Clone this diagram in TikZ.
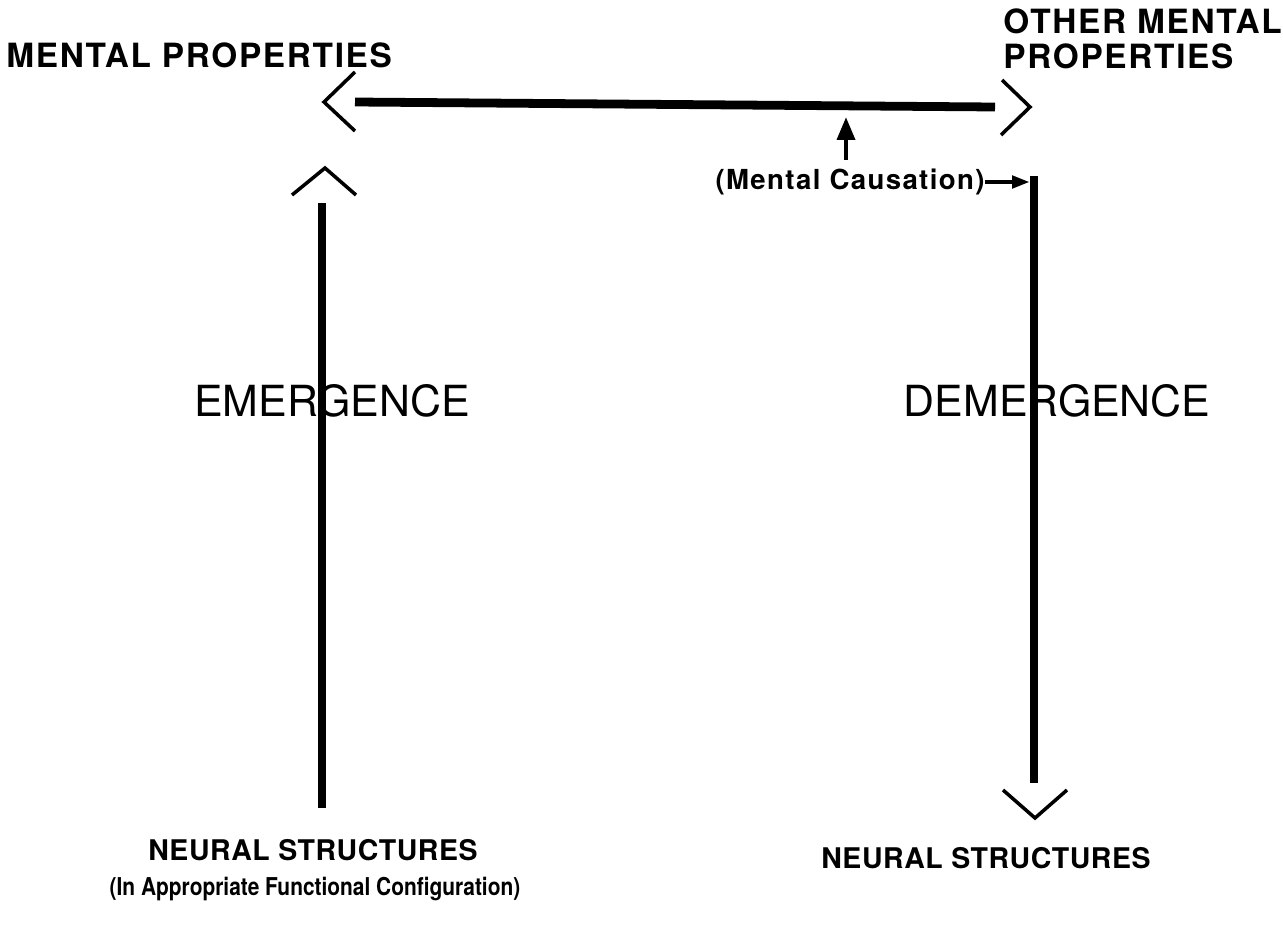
\documentclass[tikz,border=0pt]{standalone}
\usepackage{fontspec}
\setmainfont{TeX Gyre Heros}
\usetikzlibrary{arrows.meta,calc}

\tikzset{
  shaft/.style={line width=5pt},
  chev/.style={line width=2pt,line join=miter},
  cause/.style={line width=2.6pt,-{Triangle[length=13pt,width=10pt]}},
  toplbl/.style={inner sep=0pt,font=\fontsize{19}{20}\selectfont\bfseries\addfontfeature{LetterSpace=5}},
  botlbl/.style={inner sep=0pt,font=\fontsize{16.2}{18}\selectfont\bfseries\addfontfeature{LetterSpace=2}},
  smlbl/.style={inner sep=0pt,font=\fontsize{14}{16}\selectfont\bfseries\addfontfeature{FakeStretch=0.85}},
  causlbl/.style={inner sep=0pt,font=\fontsize{15.7}{18}\selectfont\bfseries\addfontfeature{LetterSpace=5}},
  biglbl/.style={inner sep=0pt,font=\fontsize{24.4}{28}\selectfont}
}

\begin{document}
\begin{tikzpicture}[x=0.02cm,y=-0.02cm]
\useasboundingbox (0,0) rectangle (1283,933);
% labels
\node[toplbl,anchor=north west,align=left] (omp) at (1003,8) {OTHER MENTAL\\[0pt]PROPERTIES};
\node[toplbl,anchor=west] (mp) at (6,55) {MENTAL PROPERTIES};
\node[biglbl] (em) at (332,401) {EMERGENCE};
\node[biglbl] (dem) at (1057,401) {DEMERGENCE};
\node[causlbl] (mc) at (850,182) {(Mental Causation)};
\node[botlbl] (nsL) at (313,850) {NEURAL STRUCTURES};
\node[smlbl] (cfg) at (315,889) {(In Appropriate Functional Configuration)};
\node[botlbl] (nsR) at (986,858) {NEURAL STRUCTURES};
% shaft ends and chevron tips
\coordinate (hL) at (355,102); \coordinate (hR) at (995,107);
\coordinate (tL) at (324,102); \coordinate (tR) at (1030,107);
\coordinate (vLb) at (322,808); \coordinate (vLt) at (322,203); \coordinate (tU) at (325,168);
\coordinate (vRt) at (1034,176); \coordinate (vRb) at (1034,783); \coordinate (tD) at (1035,818);
\coordinate (mcT) at (846,117);
% mental causation between mental properties
\draw[shaft] (hL)--(hR);
\draw[chev] ($(tL)+(31,-30)$)--(tL)--++(31,29);
\draw[chev] ($(tR)+(-28,-27)$)--(tR)--++(-29,28);
% emergence
\draw[shaft] (vLb)--(vLt);
\draw[chev] ($(tU)+(-33,27)$)--(tU)--++(31,27);
% demergence
\draw[shaft] (vRt)--(vRb);
\draw[chev] ($(tD)+(-32,-28)$)--(tD)--++(32,-28);
% small arrows
\draw[cause] (mc.north) ++(-4,-9) -- (mcT);
\draw[line width=2.2pt,-{Triangle[length=10pt,width=7pt]},shorten >=2.5pt] (mc.east) -- (mc.east -| vRt);
\end{tikzpicture}
\end{document}
